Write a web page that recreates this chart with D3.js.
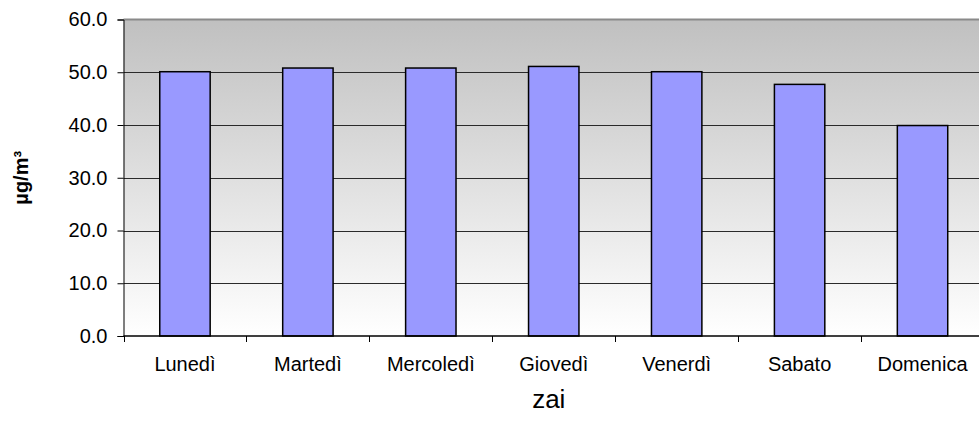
<!DOCTYPE html>
<html>
<head>
<meta charset="utf-8">
<script src="https://cdn.jsdelivr.net/npm/d3@7"></script>
<style>
  body { margin: 0; background: #fff; }
  svg { display: block; font-family: "Liberation Sans", Arial, sans-serif; }
</style>
</head>
<body>
<div id="chart"></div>
<script>
// Data
var days = ['Lunedì', 'Martedì', 'Mercoledì', 'Giovedì', 'Venerdì', 'Sabato', 'Domenica']
var values = [50.1, 50.8, 50.8, 51.1, 50.1, 47.7, 39.9]
var yTicks = [0, 10, 20, 30, 40, 50, 60]

var width = 979, height = 433
// plot area runs past the right edge of the window, like the original
var margin = { top: 19.5, left: 123.5, bottom: 336, right: 984 }

var svg = d3.select('#chart')
  .append('svg')
  .attr('width', width)
  .attr('height', height)

var defs = svg.append('defs')
var grad = defs.append('linearGradient')
  .attr('id', 'bg')
  .attr('x1', 0).attr('y1', 0)
  .attr('x2', 0).attr('y2', 1)
grad.append('stop').attr('offset', '0%').attr('stop-color', '#c0c0c0')
grad.append('stop').attr('offset', '100%').attr('stop-color', '#ffffff')

var x = d3.scaleBand()
  .domain(days)
  .range([margin.left, margin.right])
  .paddingInner(0.59)
  .paddingOuter(0.295)

var y = d3.scaleLinear()
  .domain([0, 60])
  .range([margin.bottom, margin.top])

// Plot background
svg.append('rect')
  .attr('x', margin.left)
  .attr('y', margin.top)
  .attr('width', margin.right - margin.left)
  .attr('height', margin.bottom - margin.top)
  .attr('fill', 'url(#bg)')

// Gridlines
svg.append('g')
  .selectAll('line')
  .data(yTicks.filter(function(d) { return d > 0 && d < 60 }))
  .enter()
  .append('line')
  .attr('x1', margin.left)
  .attr('x2', margin.right)
  .attr('y1', function(d) { return Math.round(y(d)) + 0.5 })
  .attr('y2', function(d) { return Math.round(y(d)) + 0.5 })
  .attr('stroke', '#2a2a2a')
  .attr('stroke-width', 1)

// Top border of plot
svg.append('line')
  .attr('x1', margin.left)
  .attr('x2', margin.right)
  .attr('y1', margin.top)
  .attr('y2', margin.top)
  .attr('stroke', '#8a8a8a')
  .attr('stroke-width', 2)

// Bars
svg.append('g')
  .selectAll('rect')
  .data(values)
  .enter()
  .append('rect')
  .attr('x', function(d, i) { return x(days[i]) })
  .attr('y', function(d) { return y(d) })
  .attr('width', x.bandwidth())
  .attr('height', function(d) { return y(0) - y(d) })
  .attr('fill', '#9999ff')
  .attr('stroke', '#000')
  .attr('stroke-width', 1.5)

// Y axis
var yAxis = d3.axisLeft(y)
  .tickValues(yTicks)
  .tickSize(6)
  .tickPadding(10)
  .tickFormat(d3.format('.1f'))
var yg = svg.append('g')
  .attr('transform', 'translate(' + margin.left + ',0)')
  .call(yAxis)
yg.select('.domain').attr('stroke', '#000')
yg.selectAll('.tick line').attr('stroke', '#000')
yg.selectAll('text')
  .attr('fill', '#000')
  .style('font-size', '20px')
  .style('font-family', '"Liberation Sans", Arial, sans-serif')

// X axis: ticks sit between categories
var step = x.step()
var xTickPos = d3.range(days.length + 1).map(function(i) { return margin.left + i * step })
var xg = svg.append('g')
xg.append('line')
  .attr('x1', margin.left)
  .attr('x2', margin.right)
  .attr('y1', margin.bottom)
  .attr('y2', margin.bottom)
  .attr('stroke', '#000')
  .attr('stroke-width', 1.5)
xg.selectAll('.xtick')
  .data(xTickPos)
  .enter()
  .append('line')
  .attr('class', 'xtick')
  .attr('x1', function(d) { return Math.round(d) + 0.5 })
  .attr('x2', function(d) { return Math.round(d) + 0.5 })
  .attr('y1', margin.bottom)
  .attr('y2', margin.bottom + 6)
  .attr('stroke', '#000')
xg.selectAll('.xlabel')
  .data(days)
  .enter()
  .append('text')
  .attr('class', 'xlabel')
  .attr('x', function(d) { return x(d) + x.bandwidth() / 2 })
  .attr('y', 371)
  .attr('text-anchor', 'middle')
  .style('font-size', '20px')
  .text(function(d) { return d })

// Axis titles
svg.append('text')
  .attr('x', (margin.left + margin.right) / 2 - 5)
  .attr('y', 408)
  .attr('text-anchor', 'middle')
  .style('font-size', '26px')
  .text('zai')

svg.append('text')
  .attr('transform', 'translate(28,' + ((margin.top + margin.bottom) / 2) + ') rotate(-90)')
  .attr('text-anchor', 'middle')
  .style('font-size', '20px')
  .style('font-weight', 'bold')
  .text('µg/m³')
</script>
</body>
</html>
